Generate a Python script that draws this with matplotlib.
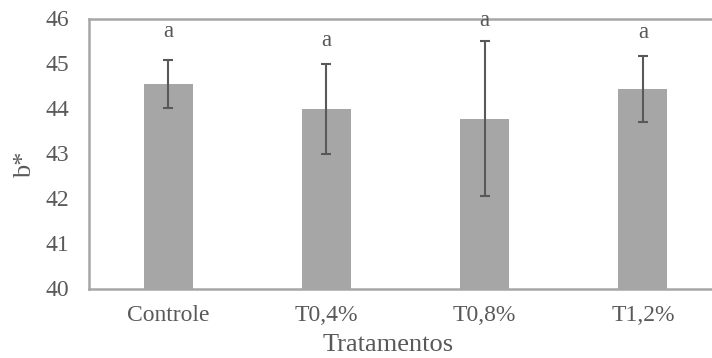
import matplotlib
matplotlib.use("Agg")
import matplotlib.pyplot as plt

categories = ["Controle", "T0,4%", "T0,8%", "T1,2%"]
means = [44.54, 43.99, 43.77, 44.43]
errors = [0.53, 1.00, 1.72, 0.73]
letters = ["a", "a", "a", "a"]
letter_y = [45.72, 45.50, 45.95, 45.68]
yticks = [40, 41, 42, 43, 44, 45, 46]

plt.rcParams['font.family'] = ['Liberation Serif', 'DejaVu Serif']
txt = '#595959'

fig = plt.figure(figsize=(7.12, 3.58), dpi=100)
W, H = 712, 358
left, right, top, bottom = 89, 722, 18.5, 288.5
ax = fig.add_axes([left / W, 1 - bottom / H, (right - left) / W, (bottom - top) / H])

x = list(range(len(categories)))
ax.bar(x, means, width=0.31, color='#A6A6A6', zorder=2)
ax.errorbar(x, means, yerr=errors, fmt='none', ecolor='#595959', elinewidth=1.5,
            capsize=3.3, capthick=1.5, zorder=3)
for xi, lab, ly in zip(x, letters, letter_y):
    ax.text(xi, ly, lab, ha='center', va='center', fontsize=16.5, color=txt)

ax.set_ylim(40, 46)
ax.set_xlim(-0.5, 3.5)
ax.set_yticks(yticks)
ax.set_xticks(x)
ax.set_xticklabels(categories)
ax.tick_params(axis='both', length=0, labelsize=17, labelcolor=txt)
ax.tick_params(axis='y', pad=14)
ax.tick_params(axis='x', pad=12)
for s in ax.spines.values():
    s.set_color('#A6A6A6')
    s.set_linewidth(1.8)
ax.set_ylabel('b*', fontsize=19, color=txt)
ax.set_xlabel('Tratamentos', fontsize=19, color=txt)
ax.yaxis.set_label_coords((25 - left) / (right - left), (bottom - 165) / (bottom - top))
ax.xaxis.set_label_coords((388 - left) / (right - left), -(345 - bottom) / (bottom - top))
ax.yaxis.label.set_va('center')
ax.xaxis.label.set_va('center')

fig.savefig('out.png', dpi=100)
